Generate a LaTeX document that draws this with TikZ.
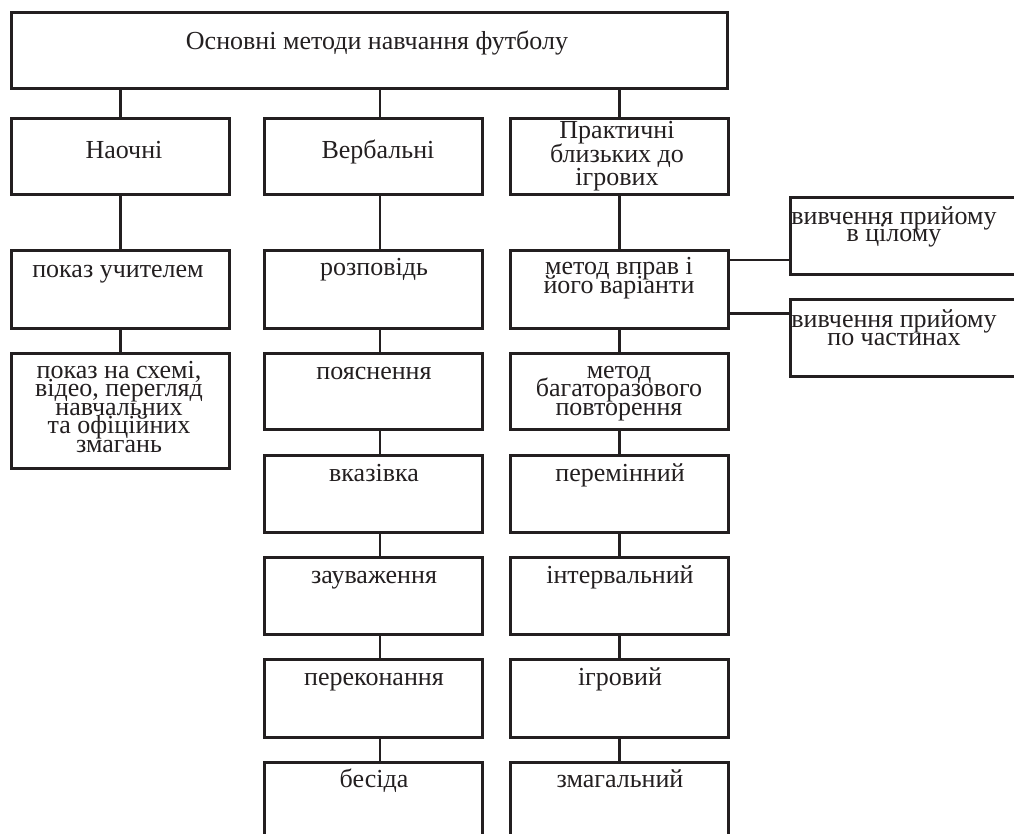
\documentclass[tikz,border=0pt]{standalone}
\usepackage{fontspec}
\setmainfont{Liberation Serif}
\definecolor{ink}{HTML}{231F20}

\begin{document}
\begin{tikzpicture}[x=1pt,y=-1pt,
  cell/.style={draw=ink,line width=2.6pt,anchor=north west,inner sep=0pt,minimum width=218pt,minimum height=77pt},
  txt/.style={text=ink,anchor=base,inner sep=0pt,align=center,font={\fontsize{26}{18.5}\selectfont\lineskiplimit=-50pt}},
  link/.style={draw=ink,line width=2.6pt}]
\useasboundingbox (0,0) rectangle (1014,834);
\node[cell,minimum width=716pt,minimum height=76pt] (main) at (10,11) {};
\node[txt] (main-t) at (377,50) {Основні методи навчання футболу};
\node[cell,minimum height=76pt] (nao) at (10,117) {};
\node[txt] (nao-t) at (124,159) {Наочні};
\node[cell,minimum height=76pt] (verb) at (263,117) {};
\node[txt] (verb-t) at (378,159) {Вербальні};
\node[cell,minimum height=76pt] (prakt) at (509,117) {};
\node[txt,font={\fontsize{26}{23.5}\selectfont\lineskiplimit=-50pt}] (prakt-t) at (617,186) {Практичні\\близьких до\\ігрових};
\node[cell,minimum height=78pt] (show) at (10,249) {};
\node[txt] (show-t) at (118,277) {показ учителем};
\node[cell,minimum height=78pt] (story) at (263,249) {};
\node[txt] (story-t) at (374,276) {розповідь};
\node[cell,minimum height=78pt] (drill) at (509,249) {};
\node[txt,font={\fontsize{26}{18}\selectfont\lineskiplimit=-50pt}] (drill-t) at (619,293) {метод вправ і\\його варіанти};
\node[cell,minimum width=241pt] (whole) at (789,196) {};
\node[txt,font={\fontsize{26}{17}\selectfont\lineskiplimit=-50pt}] (whole-t) at (894,242) {вивчення прийому\\в цілому};
\node[cell,minimum width=241pt] (parts) at (789,298) {};
\node[txt,font={\fontsize{26}{18}\selectfont\lineskiplimit=-50pt}] (parts-t) at (894,345) {вивчення прийому\\по частинах};
\node[cell,minimum height=115pt] (media) at (10,352) {};
\node[txt] (media-t) at (119,452) {показ на схемі,\\відео, перегляд\\навчальних\\та офіційних\\змагань};
\node[cell,minimum height=76pt] (explain) at (263,352) {};
\node[txt] (explain-t) at (374,379) {пояснення};
\node[cell,minimum height=76pt] (repeat) at (509,352) {};
\node[txt] (repeat-t) at (619,415) {метод\\багаторазового\\повторення};
\node[cell] (hint) at (263,454) {};
\node[txt] (hint-t) at (374,481) {вказівка};
\node[cell] (varied) at (509,454) {};
\node[txt] (varied-t) at (620,481) {перемінний};
\node[cell] (remark) at (263,556) {};
\node[txt] (remark-t) at (374,583) {зауваження};
\node[cell] (interval) at (509,556) {};
\node[txt] (interval-t) at (620,583) {інтервальний};
\node[cell,minimum height=78pt] (persuade) at (263,658) {};
\node[txt] (persuade-t) at (374,685) {переконання};
\node[cell,minimum height=78pt] (game) at (509,658) {};
\node[txt] (game-t) at (620,685) {ігровий};
\node[cell] (talk) at (263,761) {};
\node[txt] (talk-t) at (374,787) {бесіда};
\node[cell] (contest) at (509,761) {};
\node[txt] (contest-t) at (620,787) {змагальний};
\coordinate (axis) at (380,0);
\draw[link] (main.south -| nao.north) -- (nao.north);
\draw[link] (main.south -| axis) -- (verb.north -| axis);
\draw[link] (main.south -| prakt.north) -- (prakt.north);
\draw[link] (nao) -- (show);
\draw[link] (show) -- (media);
\draw[link] (verb.south -| axis) -- (story.north -| axis);
\draw[link] (story.south -| axis) -- (explain.north -| axis);
\draw[link] (explain.south -| axis) -- (hint.north -| axis);
\draw[link] (hint.south -| axis) -- (remark.north -| axis);
\draw[link] (remark.south -| axis) -- (persuade.north -| axis);
\draw[link] (persuade.south -| axis) -- (talk.north -| axis);
\draw[link] (prakt) -- (drill);
\draw[link] (drill) -- (repeat);
\draw[link] (repeat) -- (varied);
\draw[link] (varied) -- (interval);
\draw[link] (interval) -- (game);
\draw[link] (game) -- (contest);
\coordinate (h1) at ([yshift=-11pt]drill.north east);
\coordinate (h2) at ([yshift=16pt]drill.south east);
\draw[link] (h1) -- (h1 -| whole.west);
\draw[link] (h2) -- (h2 -| parts.west);
\end{tikzpicture}
\end{document}
